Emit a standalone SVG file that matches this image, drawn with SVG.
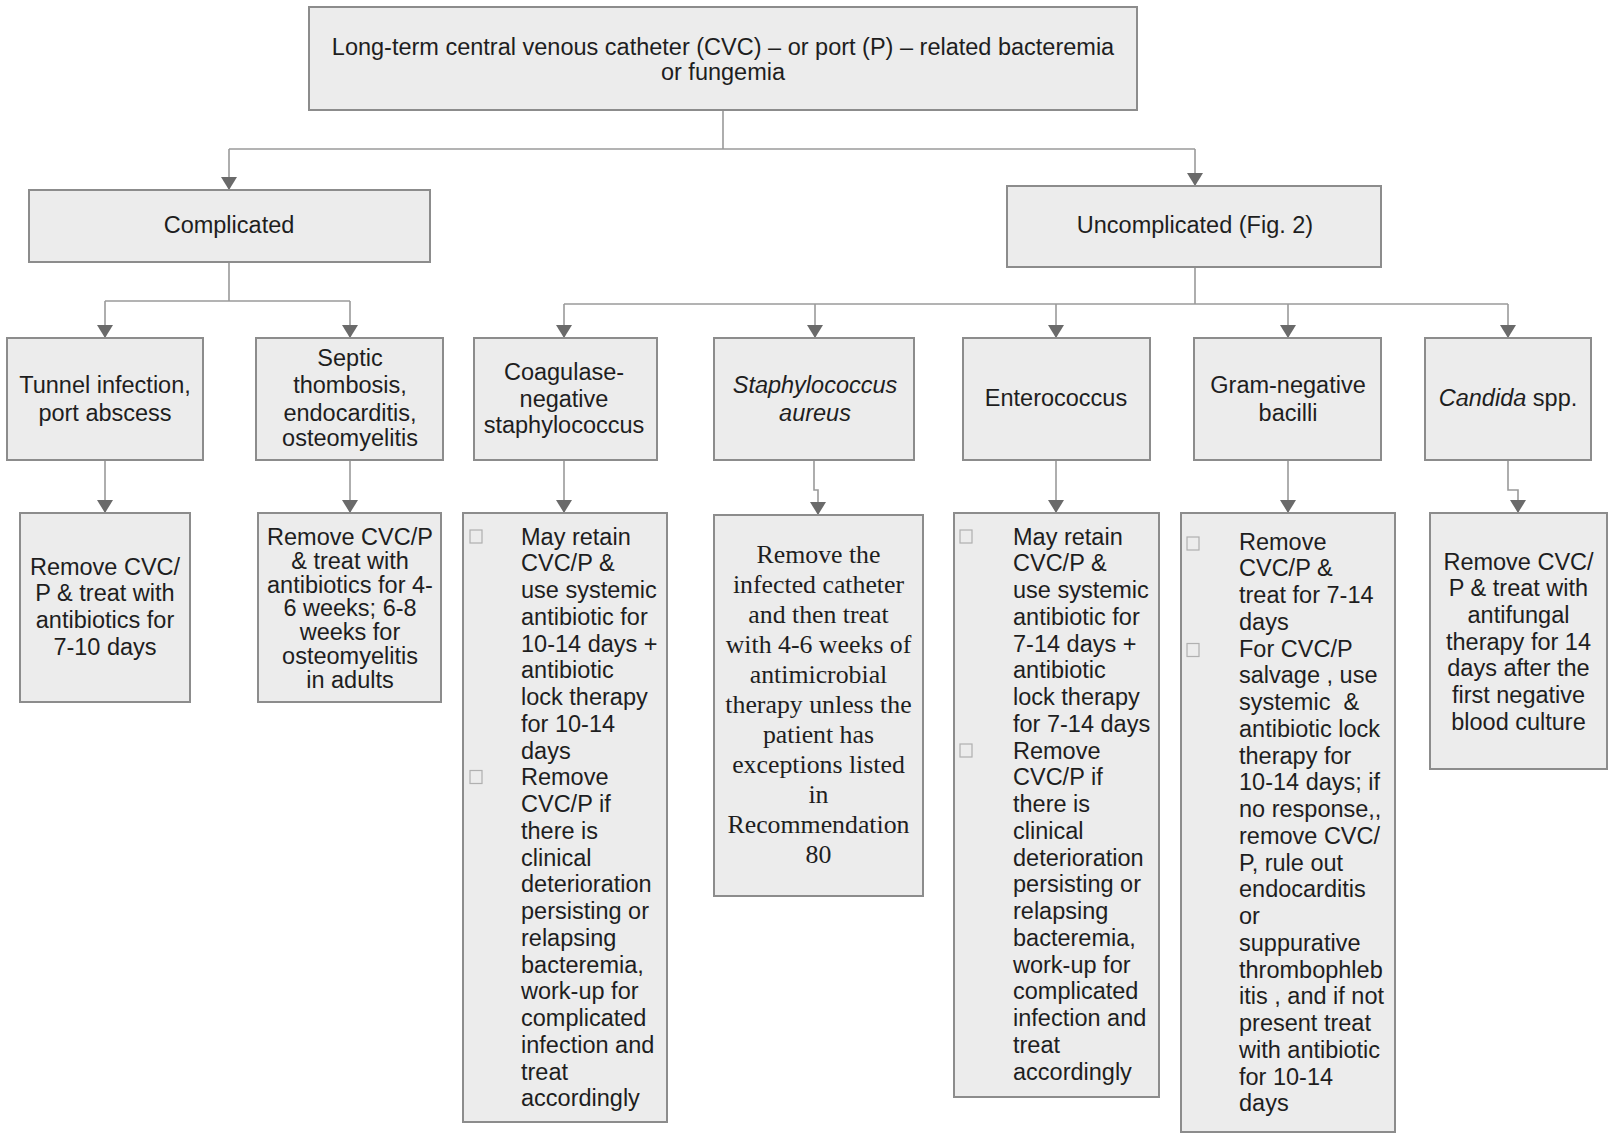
<svg xmlns="http://www.w3.org/2000/svg" width="1615" height="1136" viewBox="0 0 1615 1136">
<style>
.box{fill:#ececec;stroke:#8c8c8c;stroke-width:2}
.t{font-family:"Liberation Sans",Arial,sans-serif;font-size:23.5px;fill:#1e1e1e}
.c{text-anchor:middle}
.s{font-family:"Liberation Serif","Times New Roman",serif;font-size:25.8px;fill:#1e1e1e;text-anchor:middle}
.i{font-style:italic}
.con{fill:none;stroke:#9a9a9a;stroke-width:1.6}
.bul{fill:none;stroke:#b0b0b0;stroke-width:1.2}
</style>
<defs>
<marker id="ah2" markerUnits="userSpaceOnUse" markerWidth="13" markerHeight="16" refX="13" refY="8" orient="auto" viewBox="0 0 13 16">
<path d="M0 0 L13 8 L0 16 Z" fill="#6a6a6a"/>
</marker>
</defs>
<rect width="1615" height="1136" fill="#ffffff"/>
<g id="connectors">
<path class="con" d="M723 110 V149 M229 149 H1195"/>
<path class="con" d="M229 262 V301 M105 301 H350 M1195 267 V304 M564 304 H1508"/>
<path class="con" d="M229 149 V190" marker-end="url(#ah2)"/>
<path class="con" d="M1195 149 V186" marker-end="url(#ah2)"/>
<path class="con" d="M105 301 V338" marker-end="url(#ah2)"/>
<path class="con" d="M350 301 V338" marker-end="url(#ah2)"/>
<path class="con" d="M564 304 V338" marker-end="url(#ah2)"/>
<path class="con" d="M815 304 V338" marker-end="url(#ah2)"/>
<path class="con" d="M1056 304 V338" marker-end="url(#ah2)"/>
<path class="con" d="M1288 304 V338" marker-end="url(#ah2)"/>
<path class="con" d="M1508 304 V338" marker-end="url(#ah2)"/>
<path class="con" d="M105 460 V513" marker-end="url(#ah2)"/>
<path class="con" d="M350 460 V513" marker-end="url(#ah2)"/>
<path class="con" d="M564 460 V513" marker-end="url(#ah2)"/>
<path class="con" d="M814 460 V490 H818 V515" marker-end="url(#ah2)"/>
<path class="con" d="M1056 460 V513" marker-end="url(#ah2)"/>
<path class="con" d="M1288 460 V513" marker-end="url(#ah2)"/>
<path class="con" d="M1508 460 V490 H1518 V513" marker-end="url(#ah2)"/>
</g>
<g id="root">
<rect class="box" x="309" y="7" width="828" height="103"/>
<text class="t c" x="723" y="54.5">Long-term central venous catheter (CVC) – or port (P) – related bacteremia</text>
<text class="t c" x="723" y="79.5">or fungemia</text>
</g>
<g id="complicated">
<rect class="box" x="29" y="190" width="401" height="72"/>
<text class="t c" x="229" y="233">Complicated</text>
</g>
<g id="uncomplicated">
<rect class="box" x="1007" y="186" width="374" height="81"/>
<text class="t c" x="1195" y="233">Uncomplicated (Fig. 2)</text>
</g>
<g id="tunnel">
<rect class="box" x="7" y="338" width="196" height="122"/>
<text class="t c" x="105" y="393">Tunnel infection,</text>
<text class="t c" x="105" y="421">port abscess</text>
</g>
<g id="septic">
<rect class="box" x="256" y="338" width="187" height="122"/>
<text class="t c" x="350" y="366">Septic</text>
<text class="t c" x="350" y="393">thombosis,</text>
<text class="t c" x="350" y="420.5">endocarditis,</text>
<text class="t c" x="350" y="445.5">osteomyelitis</text>
</g>
<g id="coag">
<rect class="box" x="474" y="338" width="183" height="122"/>
<text class="t c" x="564" y="379.5">Coagulase-</text>
<text class="t c" x="564" y="406.5">negative</text>
<text class="t c" x="564" y="433">staphylococcus</text>
</g>
<g id="staph">
<rect class="box" x="714" y="338" width="200" height="122"/>
<text class="t c i" x="815" y="393">Staphylococcus</text>
<text class="t c i" x="815" y="421">aureus</text>
</g>
<g id="entero">
<rect class="box" x="963" y="338" width="187" height="122"/>
<text class="t c" x="1056" y="406">Enterococcus</text>
</g>
<g id="gram">
<rect class="box" x="1194" y="338" width="187" height="122"/>
<text class="t c" x="1288" y="393">Gram-negative</text>
<text class="t c" x="1288" y="421">bacilli</text>
</g>
<g id="candida">
<rect class="box" x="1425" y="338" width="166" height="122"/>
<text class="t c" x="1508" y="406"><tspan class="i">Candida</tspan> spp.</text>
</g>
<g id="tunnel-tx">
<rect class="box" x="20" y="513" width="170" height="189"/>
<text class="t c" x="105" y="574.7">Remove CVC/</text>
<text class="t c" x="105" y="601.4">P &amp; treat with</text>
<text class="t c" x="105" y="628.1">antibiotics for</text>
<text class="t c" x="105" y="654.8">7-10 days</text>
</g>
<g id="septic-tx">
<rect class="box" x="258" y="513" width="183" height="189"/>
<text class="t c" x="350" y="544.7">Remove CVC/P</text>
<text class="t c" x="350" y="568.6">&amp; treat with</text>
<text class="t c" x="350" y="592.5">antibiotics for 4-</text>
<text class="t c" x="350" y="616.4">6 weeks; 6-8</text>
<text class="t c" x="350" y="640.3">weeks for</text>
<text class="t c" x="350" y="664.2">osteomyelitis</text>
<text class="t c" x="350" y="688.1">in adults</text>
</g>
<g id="coag-tx">
<rect class="box" x="463" y="513" width="204" height="609"/>
<rect class="bul" x="470" y="530" width="12" height="13"/>
<rect class="bul" x="470" y="770.5" width="12" height="13"/>
<text class="t" x="521" y="544.7">May retain<tspan x="521" dy="26.75">CVC/P &amp;</tspan><tspan x="521" dy="26.75">use systemic</tspan><tspan x="521" dy="26.75">antibiotic for</tspan><tspan x="521" dy="26.75">10-14 days +</tspan><tspan x="521" dy="26.75">antibiotic</tspan><tspan x="521" dy="26.75">lock therapy</tspan><tspan x="521" dy="26.75">for 10-14</tspan><tspan x="521" dy="26.75">days</tspan><tspan x="521" dy="26.75">Remove</tspan><tspan x="521" dy="26.75">CVC/P if</tspan><tspan x="521" dy="26.75">there is</tspan><tspan x="521" dy="26.75">clinical</tspan><tspan x="521" dy="26.75">deterioration</tspan><tspan x="521" dy="26.75">persisting or</tspan><tspan x="521" dy="26.75">relapsing</tspan><tspan x="521" dy="26.75">bacteremia,</tspan><tspan x="521" dy="26.75">work-up for</tspan><tspan x="521" dy="26.75">complicated</tspan><tspan x="521" dy="26.75">infection and</tspan><tspan x="521" dy="26.75">treat</tspan><tspan x="521" dy="26.75">accordingly</tspan></text>
</g>
<g id="staph-tx">
<rect class="box" x="714" y="515" width="209" height="381"/>
<text class="s" x="818.5" y="563">Remove the<tspan x="818.5" dy="30">infected catheter</tspan><tspan x="818.5" dy="30">and then treat</tspan><tspan x="818.5" dy="30">with 4-6 weeks of</tspan><tspan x="818.5" dy="30">antimicrobial</tspan><tspan x="818.5" dy="30">therapy unless the</tspan><tspan x="818.5" dy="30">patient has</tspan><tspan x="818.5" dy="30">exceptions listed</tspan><tspan x="818.5" dy="30">in</tspan><tspan x="818.5" dy="30">Recommendation</tspan><tspan x="818.5" dy="30">80</tspan></text>
</g>
<g id="entero-tx">
<rect class="box" x="954" y="513" width="205" height="584"/>
<rect class="bul" x="960" y="530" width="12" height="13"/>
<rect class="bul" x="960" y="744" width="12" height="13"/>
<text class="t" x="1013" y="544.7">May retain<tspan x="1013" dy="26.75">CVC/P &amp;</tspan><tspan x="1013" dy="26.75">use systemic</tspan><tspan x="1013" dy="26.75">antibiotic for</tspan><tspan x="1013" dy="26.75">7-14 days +</tspan><tspan x="1013" dy="26.75">antibiotic</tspan><tspan x="1013" dy="26.75">lock therapy</tspan><tspan x="1013" dy="26.75">for 7-14 days</tspan><tspan x="1013" dy="26.75">Remove</tspan><tspan x="1013" dy="26.75">CVC/P if</tspan><tspan x="1013" dy="26.75">there is</tspan><tspan x="1013" dy="26.75">clinical</tspan><tspan x="1013" dy="26.75">deterioration</tspan><tspan x="1013" dy="26.75">persisting or</tspan><tspan x="1013" dy="26.75">relapsing</tspan><tspan x="1013" dy="26.75">bacteremia,</tspan><tspan x="1013" dy="26.75">work-up for</tspan><tspan x="1013" dy="26.75">complicated</tspan><tspan x="1013" dy="26.75">infection and</tspan><tspan x="1013" dy="26.75">treat</tspan><tspan x="1013" dy="26.75">accordingly</tspan></text>
</g>
<g id="gram-tx">
<rect class="box" x="1181" y="513" width="214" height="619"/>
<rect class="bul" x="1187" y="537" width="12" height="13"/>
<rect class="bul" x="1187" y="643.5" width="12" height="13"/>
<text class="t" x="1239" y="549.7">Remove<tspan x="1239" dy="26.75">CVC/P &amp;</tspan><tspan x="1239" dy="26.75">treat for 7-14</tspan><tspan x="1239" dy="26.75">days</tspan><tspan x="1239" dy="26.75">For CVC/P</tspan><tspan x="1239" dy="26.75">salvage , use</tspan><tspan x="1239" dy="26.75" xml:space="preserve">systemic  &amp;</tspan><tspan x="1239" dy="26.75">antibiotic lock</tspan><tspan x="1239" dy="26.75">therapy for</tspan><tspan x="1239" dy="26.75">10-14 days; if</tspan><tspan x="1239" dy="26.75">no response,,</tspan><tspan x="1239" dy="26.75">remove CVC/</tspan><tspan x="1239" dy="26.75">P, rule out</tspan><tspan x="1239" dy="26.75">endocarditis</tspan><tspan x="1239" dy="26.75">or</tspan><tspan x="1239" dy="26.75">suppurative</tspan><tspan x="1239" dy="26.75">thrombophleb</tspan><tspan x="1239" dy="26.75">itis , and if not</tspan><tspan x="1239" dy="26.75">present treat</tspan><tspan x="1239" dy="26.75">with antibiotic</tspan><tspan x="1239" dy="26.75">for 10-14</tspan><tspan x="1239" dy="26.75">days</tspan></text>
</g>
<g id="candida-tx">
<rect class="box" x="1430" y="513" width="177" height="256"/>
<text class="t c" x="1518.5" y="569.7">Remove CVC/<tspan x="1518.5" dy="26.67">P &amp; treat with</tspan><tspan x="1518.5" dy="26.67">antifungal</tspan><tspan x="1518.5" dy="26.67">therapy for 14</tspan><tspan x="1518.5" dy="26.67">days after the</tspan><tspan x="1518.5" dy="26.67">first negative</tspan><tspan x="1518.5" dy="26.67">blood culture</tspan></text>
</g>
</svg>
